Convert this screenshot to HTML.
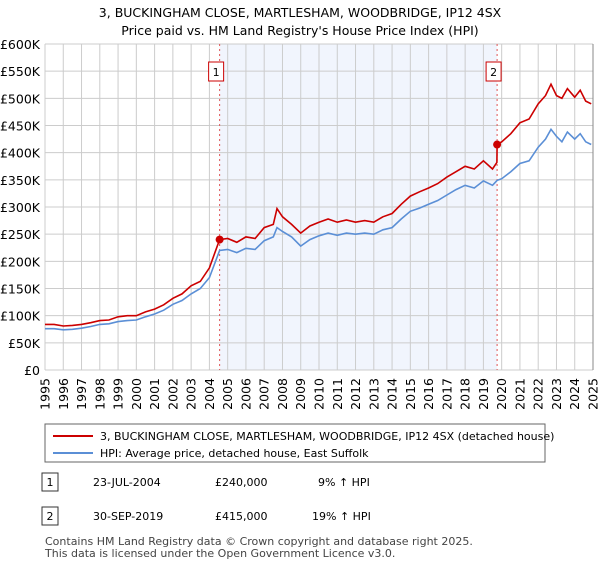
<!DOCTYPE html>
<html><head><meta charset="utf-8"><style>
body{margin:0;background:#fff;font-family:"Liberation Sans","DejaVu Sans",sans-serif;}
svg text{font-family:"DejaVu Sans","Liberation Sans",sans-serif;}
</style></head><body>
<svg id="c" width="600" height="560">
<text x="300" y="17" text-anchor="middle" font-size="12.5">3, BUCKINGHAM CLOSE, MARTLESHAM, WOODBRIDGE, IP12 4SX</text>
<text x="300" y="35" text-anchor="middle" font-size="12.5">Price paid vs. HM Land Registry's House Price Index (HPI)</text>
<g id="plot"></g>
<rect x="45" y="424" width="500" height="38" fill="#fff" stroke="#666"/>
<line x1="53" y1="436" x2="93" y2="436" stroke="#cc0000" stroke-width="2"/>
<text x="100" y="440" font-size="11">3, BUCKINGHAM CLOSE, MARTLESHAM, WOODBRIDGE, IP12 4SX (detached house)</text>
<line x1="53" y1="453" x2="93" y2="453" stroke="#5b8fd6" stroke-width="2"/>
<text x="100" y="457" font-size="11">HPI: Average price, detached house, East Suffolk</text>
<g font-size="11">
<rect x="42" y="473" width="16" height="18" fill="#fff" stroke="#333"/>
<text x="50" y="486" text-anchor="middle">1</text>
<text x="93" y="486">23-JUL-2004</text>
<text x="215" y="486">£240,000</text>
<text x="318" y="486">9% ↑ HPI</text>
<rect x="42" y="507" width="16" height="18" fill="#fff" stroke="#333"/>
<text x="50" y="520" text-anchor="middle">2</text>
<text x="93" y="520">30-SEP-2019</text>
<text x="215" y="520">£415,000</text>
<text x="312" y="520">19% ↑ HPI</text>
<text x="45" y="545" fill="#444">Contains HM Land Registry data © Crown copyright and database right 2025.</text>
<text x="45" y="557" fill="#444">This data is licensed under the Open Government Licence v3.0.</text>
</g>
</svg>
<script>
const hpiYears=[1995,1995.5,1996,1996.5,1997,1997.5,1998,1998.5,1999,1999.5,2000,2000.5,2001,2001.5,2002,2002.5,2003,2003.5,2004,2004.56,2005,2005.5,2006,2006.5,2007,2007.5,2007.7,2008,2008.5,2009,2009.5,2010,2010.5,2011,2011.5,2012,2012.5,2013,2013.5,2014,2014.5,2015,2015.5,2016,2016.5,2017,2017.5,2018,2018.5,2019,2019.5,2019.75,2020,2020.5,2021,2021.5,2022,2022.4,2022.7,2023,2023.3,2023.6,2024,2024.3,2024.6,2024.9];
const hpiValues=[76,76,74,75,77,80,84,85,89,91,92,98,103,110,121,128,140,150,170,220,222,216,224,222,238,245,262,255,245,228,240,247,252,248,252,250,252,250,258,262,278,292,298,305,312,322,332,340,335,348,340,349,352,365,380,385,410,425,443,430,420,438,425,435,420,415];
const redYears=[1995,1995.5,1996,1996.5,1997,1997.5,1998,1998.5,1999,1999.5,2000,2000.5,2001,2001.5,2002,2002.5,2003,2003.5,2004,2004.56,2005,2005.5,2006,2006.5,2007,2007.5,2007.7,2008,2008.5,2009,2009.5,2010,2010.5,2011,2011.5,2012,2012.5,2013,2013.5,2014,2014.5,2015,2015.5,2016,2016.5,2017,2017.5,2018,2018.5,2019,2019.5,2019.74,2019.75,2020,2020.5,2021,2021.5,2022,2022.4,2022.7,2023,2023.3,2023.6,2024,2024.3,2024.6,2024.9];
const redValues=[84,84,81,82,84,87,91,92,98,100,100,107,112,120,132,140,155,163,188,240,242,235,245,242,262,268,297,282,268,252,265,272,278,272,276,272,275,272,282,288,305,320,328,335,343,355,365,375,370,385,370,382,415,420,435,455,462,490,505,526,505,500,518,502,515,495,490];
const yTicks=[0,50,100,150,200,250,300,350,400,450,500,550,600];
const yLabels=["£0","£50K","£100K","£150K","£200K","£250K","£300K","£350K","£400K","£450K","£500K","£550K","£600K"];
const xTicks=[1995,1996,1997,1998,1999,2000,2001,2002,2003,2004,2005,2006,2007,2008,2009,2010,2011,2012,2013,2014,2015,2016,2017,2018,2019,2020,2021,2022,2023,2024,2025];
const saleYears=[2004.56,2019.75];
const salePrices=[240,415];
const saleLabels=["1","2"];
const L=45,R=593,T=44,B=370;
const X=y=>L+(y-1995)/30*(R-L);
const Y=v=>B-v/600*(B-T);
const ns="http://www.w3.org/2000/svg",g=document.getElementById('plot');
function mk(t,a,p){const e=document.createElementNS(ns,t);for(const k in a)e.setAttribute(k,a[k]);(p||g).appendChild(e);return e;}
let sh=mk('rect',{x:X(saleYears[0]),y:T,width:X(saleYears[1])-X(saleYears[0]),height:B-T,fill:'#eef3fc',opacity:0.8});


xTicks.forEach(t=>{let l=mk('line',{x1:X(t),x2:X(t),y1:T,y2:B,stroke:'#ccc'});


let tx=mk('text',{x:0,y:0,'text-anchor':'end','font-size':12.5,transform:'translate('+(X(t)+4.5)+',378) rotate(-90)'});tx.textContent=t;

});
yTicks.forEach((t,i)=>{let l=mk('line',{x1:L,x2:R,y1:Y(t),y2:Y(t),stroke:'#ccc'});


let tx=mk('text',{x:40,y:Y(t)+5,'text-anchor':'end','font-size':12.5});tx.textContent=yLabels[i];

});
let rb=mk('line',{x1:R,x2:R,y1:T,y2:B,stroke:'#888'});


saleYears.forEach((s,i)=>{let l=mk('line',{x1:X(s),x2:X(s),y1:T,y2:B,stroke:'#e05555','stroke-dasharray':'2,3'});

});
function path(xs,vs,c,n){let d=xs.map((x,i)=>(i?'L':'M')+X(x).toFixed(1)+','+Y(vs[i]).toFixed(1)).join('');
let p=mk('path',{d:d,fill:'none',stroke:c,'stroke-width':1.6});

}
path(hpiYears,hpiValues,'#5b8fd6','hpi-line');
path(redYears,redValues,'#cc0000','property-price-line');
saleYears.forEach((s,i)=>{let c=mk('circle',{cx:X(s),cy:Y(salePrices[i]),r:4,fill:'#cc0000'});


let b=mk('rect',{x:X(s)-11,y:62,width:15,height:19,fill:'#fff',stroke:'#cc0000'});


let t=mk('text',{x:X(s)-3.5,y:76,'text-anchor':'middle','font-size':11});t.textContent=saleLabels[i];

});
</script>
</body></html>
